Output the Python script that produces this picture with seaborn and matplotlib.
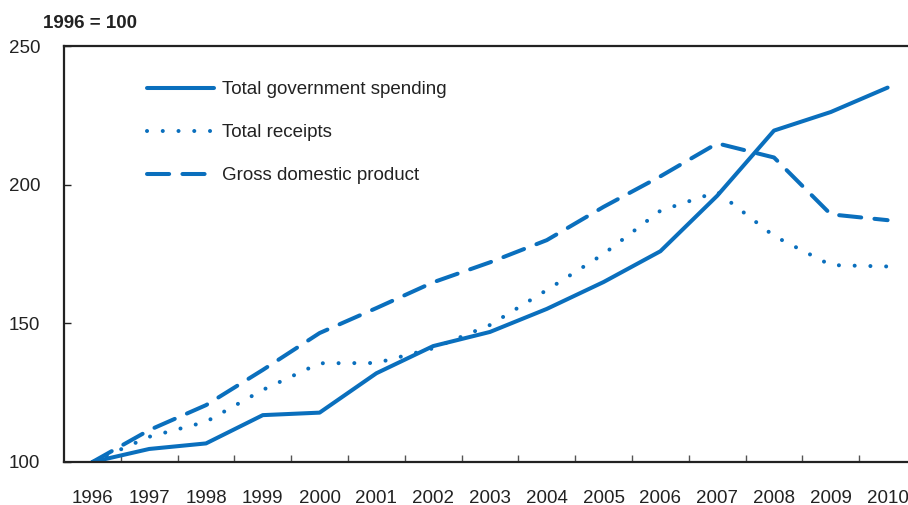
import numpy as np
import pandas as pd
import matplotlib
matplotlib.use("Agg")
import matplotlib.pyplot as plt
import seaborn as sns

# ---- data (1996 = 100) ----
years = list(range(1996, 2011))
spending = [100, 104.7, 106.7, 116.9, 117.8, 132.0, 141.8, 146.9, 155.2, 164.9, 176.0, 196.0, 219.5, 226.2, 235.0]
receipts = [100, 109.1, 114.5, 126.0, 135.6, 135.7, 141.0, 149.4, 162.0, 175.0, 190.6, 197.4, 181.5, 171.0, 170.5]
gdp = [100, 111.5, 120.5, 133.2, 146.5, 155.5, 164.8, 172.0, 180.0, 192.0, 203.0, 214.9, 209.8, 189.3, 187.2]
series_names = ["Total government spending", "Total receipts", "Gross domestic product"]

BLUE = "#0a6fbd"
FS = 13.5

sns.set_theme(style="white")
plt.rcParams['font.family'] = ['Liberation Sans', 'DejaVu Sans']
plt.rcParams['lines.dash_capstyle'] = 'round'
plt.rcParams['lines.solid_capstyle'] = 'round'

fig = plt.figure(figsize=(9.08, 5.05), dpi=100)
ax = fig.add_axes([64 / 908, 43 / 505, 844 / 908, 416 / 505])

styles = {
    "Total government spending": "-",
    "Total receipts": (0, (0.01, 3.9)),
    "Gross domestic product": (0, (5.5, 3.3)),
}
for name, vals in zip(series_names, [spending, receipts, gdp]):
    df = pd.DataFrame({"year": years, "value": vals})
    sns.lineplot(data=df, x="year", y="value", ax=ax, color=BLUE, linewidth=2.9,
                 linestyle=styles[name], label=name)

ax.set_xlim(1995.5, 1995.5 + 844 / 56.8)
ax.set_ylim(100, 250)
ax.set_xlabel("")
ax.set_ylabel("")

# category-style x axis: labels at years, tick marks at boundaries
ax.set_xticks(years)
ax.set_xticklabels([str(y) for y in years])
ax.set_xticks([y + 0.5 for y in years[:-1]], minor=True)
ax.tick_params(axis="x", which="major", length=0, pad=20, labelsize=FS, colors="#222222")
ax.tick_params(axis="x", which="minor", direction="in", length=5, width=1, color="#555555", bottom=True)
ax.set_yticks([100, 150, 200, 250])
ax.tick_params(axis="y", which="major", direction="in", length=5, width=1, color="#222222",
               pad=17, labelsize=FS, labelcolor="#222222", left=True)

for side in ["left", "bottom", "top"]:
    ax.spines[side].set_color("#222222")
    ax.spines[side].set_linewidth(1.6)
ax.spines["right"].set_visible(False)

leg = ax.legend(loc="upper left", bbox_to_anchor=(0.0983, 0.916), frameon=False,
                borderaxespad=0, borderpad=0, fontsize=FS, handlelength=3.6,
                handletextpad=0.38, labelspacing=1.38)
for t in leg.get_texts():
    t.set_color("#222222")

fig.text(43 / 908, 1 - 23 / 505, "1996 = 100", fontsize=FS, fontweight="bold",
         va="center", ha="left", color="#222222")

fig.savefig("out.png", dpi=100)
